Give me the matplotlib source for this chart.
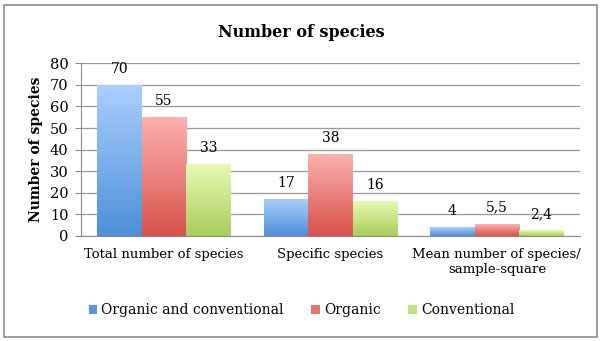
import numpy as np
import matplotlib.pyplot as plt
from matplotlib.colors import LinearSegmentedColormap
from matplotlib.patches import Rectangle, Patch

categories = ["Total number of species", "Specific species", "Mean number of species/\nsample-square"]
series = ["Organic and conventional", "Organic", "Conventional"]
values = [[70, 17, 4], [55, 38, 5.5], [33, 16, 2.4]]
labels = [["70", "17", "4"], ["55", "38", "5,5"], ["33", "16", "2,4"]]
yticks = [0, 10, 20, 30, 40, 50, 60, 70, 80]

# top / bottom colours of the gradient bars
grads = [("#aacffc", "#4e8fd8"), ("#fcb1ad", "#d9524c"), ("#e6fab3", "#a9cd5e")]
legend_cols = ["#5a97de", "#e5716b", "#c2e07e"]

plt.rcParams['font.family'] = ['DejaVu Serif']

fig = plt.figure(figsize=(6.03, 3.41), dpi=100)
ax = fig.add_axes([0.134, 0.309, 0.828, 0.505])

# outer chart border
fig.patches.append(Rectangle((4/603, 4/341), 593/603, 332/341, transform=fig.transFigure,
                             fill=False, edgecolor="#8c8c8c", lw=1.2))

w = 0.267
x = np.arange(len(categories))
for i, s in enumerate(series):
    cmap = LinearSegmentedColormap.from_list("g%d" % i, [grads[i][1], grads[i][0]])
    grad = np.linspace(0, 1, 100).reshape(-1, 1)
    for j, v in enumerate(values[i]):
        x0 = x[j] - 1.5*w + i*w
        ax.imshow(grad, extent=(x0, x0 + w, 0, v), origin="lower", cmap=cmap,
                  aspect="auto", zorder=2, interpolation="bilinear")
        ax.text(x0 + w/2, v + 4.3, labels[i][j], ha="center", va="bottom", fontsize=10)

handles = [Patch(facecolor=c, label=s) for c, s in zip(legend_cols, series)]

ax.set_xlim(-0.5, 2.5)
ax.set_ylim(0, 80)
ax.set_yticks(yticks)
ax.set_xticks(x)
ax.set_xticklabels(categories, fontsize=9.5)
ax.tick_params(axis="x", length=0, pad=9)
ax.tick_params(axis="y", length=4, color="#8c8c8c", labelsize=10.5, pad=5)
ax.grid(axis="y", color="#999999", lw=0.9)
ax.set_axisbelow(True)
for sp in ["top", "right"]:
    ax.spines[sp].set_visible(False)
for sp in ["left", "bottom"]:
    ax.spines[sp].set_color("#8c8c8c")

ax.set_ylabel("Number of species", fontsize=10, fontweight="bold", labelpad=5)
fig.text(0.5, 0.905, "Number of species", ha="center", va="center", fontsize=11.5, fontweight="bold")

fig.legend(handles=handles, loc="center", bbox_to_anchor=(0.5, 0.09), ncol=3, frameon=False,
           fontsize=10, handlelength=0.6, handleheight=0.6, handletextpad=0.3, columnspacing=2.0)

fig.savefig("out.png", dpi=100)
